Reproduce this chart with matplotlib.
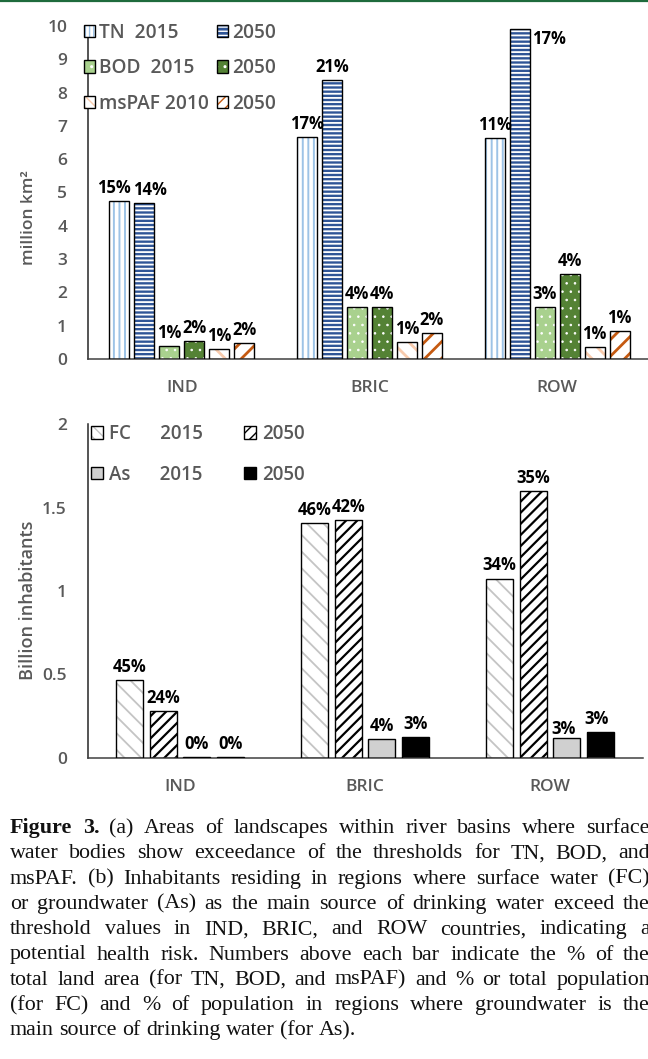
import matplotlib
matplotlib.use("Agg")
import matplotlib.pyplot as plt
from matplotlib.lines import Line2D
from matplotlib.patches import Patch
from matplotlib.legend_handler import HandlerTuple

# ---------------- data ----------------
regions = ["IND", "BRIC", "ROW"]

# (a) million km2
tn_2015 = [4.74, 6.67, 6.64]
tn_2050 = [4.68, 8.38, 9.90]
bod_2015 = [0.40, 1.56, 1.57]
bod_2050 = [0.54, 1.57, 2.54]
mspaf_2010 = [0.30, 0.51, 0.35]
mspaf_2050 = [0.48, 0.77, 0.84]

tn_2015_pct = ["15%", "17%", "11%"]
tn_2050_pct = ["14%", "21%", "17%"]
bod_2015_pct = ["1%", "4%", "3%"]
bod_2050_pct = ["2%", "4%", "4%"]
mspaf_2010_pct = ["1%", "1%", "1%"]
mspaf_2050_pct = ["2%", "2%", "1%"]

# (b) billion inhabitants
fc_2015 = [0.467, 1.407, 1.074]
fc_2050 = [0.283, 1.425, 1.600]
as_2015 = [0.004, 0.114, 0.120]
as_2050 = [0.004, 0.126, 0.157]

fc_2015_pct = ["45%", "46%", "34%"]
fc_2050_pct = ["24%", "42%", "35%"]
as_2015_pct = ["0%", "4%", "3%"]
as_2050_pct = ["0%", "3%", "3%"]

top_yticks = [0, 1, 2, 3, 4, 5, 6, 7, 8, 9, 10]
bot_yticks = [0, 0.5, 1, 1.5, 2]
bot_yticklabels = ["0", "0.5", "1", "1.5", "2"]

caption_lines = [
    "Figure 3. (a) Areas of landscapes within river basins where surface",
    "water bodies show exceedance of the thresholds for TN, BOD, and",
    "msPAF. (b) Inhabitants residing in regions where surface water (FC)",
    "or groundwater (As) as the main source of drinking water exceed the",
    "threshold values in IND, BRIC, and ROW countries, indicating a",
    "potential health risk. Numbers above each bar indicate the % of the",
    "total land area (for TN, BOD, and msPAF) and % or total population",
    "(for FC) and % of population in regions where groundwater is the",
    "main source of drinking water (for As).",
]

# ---------------- style ----------------
W, H = 648, 1059
SANS = ["Open Sans", "DejaVu Sans"]
SERIF = ["Liberation Serif", "DejaVu Serif"]
GRAY = "#595959"
plt.rcParams["font.family"] = SANS
plt.rcParams["hatch.linewidth"] = 1.0

fig = plt.figure(figsize=(W / 100, H / 100), dpi=100)
fig.patch.set_facecolor("white")

ax1 = fig.add_axes([88 / W, 1 - 359 / H, 563 / W, 333 / H])
ax2 = fig.add_axes([87.5 / W, 1 - 758 / H, 555 / W, 334 / H])

x = list(range(len(regions)))


def set_hlw(p, hlw):
    if hasattr(p, "set_hatch_linewidth"):
        p.set_hatch_linewidth(hlw)


def hatched(ax, xs, hs, width, face, hatch, hcolor, hlw):
    fill = ax.bar(xs, hs, width, color=face, edgecolor=hcolor, linewidth=0,
                  hatch=hatch, zorder=2)
    for p in fill:
        set_hlw(p, hlw)
    outline = ax.bar(xs, hs, width, fill=False, edgecolor="black",
                     linewidth=1.0, zorder=3)
    return fill, outline


def legend_handle(face, hatch, hcolor, hlw):
    f = Patch(facecolor=face, edgecolor=hcolor, linewidth=0, hatch=hatch)
    set_hlw(f, hlw)
    o = Patch(fill=False, edgecolor="black", linewidth=1.0)
    return (f, o)


def style_axes(ax):
    for s in ["top", "right"]:
        ax.spines[s].set_visible(False)
    ax.spines["left"].set_color("#262626")
    ax.spines["left"].set_linewidth(1.1)
    ax.spines["bottom"].set_color("#404040")
    ax.spines["bottom"].set_linewidth(1.1)
    ax.tick_params(axis="both", length=0, colors=GRAY, labelsize=12.5)
    ax.tick_params(axis="y", pad=15)
    ax.tick_params(axis="x", pad=15)
    for lab in ax.get_xticklabels() + ax.get_yticklabels():
        lab.set_fontweight("semibold")
    ax.set_xlim(-0.5, 2.5)


# label nudges (points) for labels Excel moved to avoid overlaps
nudge_a = {(0, 0): (-4, 3), (1, 0): (4, 3)}
nudge_b = {(2, 2): (-2, 0), (3, 2): (-3, 3)}
PCT_FS = 12

# ---------------- panel (a) ----------------
step_a = 25 / 187.67
wid_a = 20 / 187.67
# values, labels, face, hatch, hatch colour, hatch lw, legend hatch
series_a = [
    (tn_2015, tn_2015_pct, "white", "|||", "#9DC3E6", 1.4, "||||"),
    (tn_2050, tn_2050_pct, "#2F5597", "----", "white", 1.3, "----"),
    (bod_2015, bod_2015_pct, "#A9D18E", "..", "white", 0.6, ".."),
    (bod_2050, bod_2050_pct, "#548235", "..", "white", 0.6, ".."),
    (mspaf_2010, mspaf_2010_pct, "white", "\\\\", "#F8CBAD", 2.0, "\\\\\\"),
    (mspaf_2050, mspaf_2050_pct, "white", "//", "#C55A11", 2.0, "///"),
]
handles_a = []
for i, (vals, pct, face, hatch, hc, hlw, lh) in enumerate(series_a):
    xs = [xi + (i - 2.5) * step_a for xi in x]
    fill, outline = hatched(ax1, xs, vals, wid_a, face, hatch, hc, hlw)
    anns = ax1.bar_label(outline, labels=pct, padding=3, fontsize=PCT_FS,
                         fontweight="bold", color="black")
    for j, a in enumerate(anns):
        if (i, j) in nudge_a:
            a.xyann = nudge_a[(i, j)]
    if i == 1:  # ROW 2050 TN label sits right of the bar top
        anns[2].set_ha("left")
        anns[2].set_va("center")
        anns[2].xyann = (9, -7)
    handles_a.append(legend_handle(face, lh, hc, hlw))

ax1.set_ylim(0, 10)
ax1.set_yticks(top_yticks)
ax1.set_xticks(x)
ax1.set_xticklabels(regions)
style_axes(ax1)
ax1.set_ylabel("million km²", color=GRAY, fontsize=12.5, fontweight="semibold")
ax1.yaxis.set_label_coords(-(88 - 37) / 563, 1 - (218 - 26) / 333)

labels_a = ["TN  2015", "BOD  2015", "msPAF 2010", "2050", "2050", "2050"]
order = [0, 2, 4, 1, 3, 5]
leg1 = ax1.legend([handles_a[k] for k in order], labels_a,
                  handler_map={tuple: HandlerTuple(ndivide=1)},
                  ncol=2, loc="upper left", bbox_to_anchor=(84 / W, 1 - 23 / H),
                  bbox_transform=fig.transFigure, frameon=False, borderpad=0,
                  borderaxespad=0, handlelength=0.55, handleheight=0.6,
                  handletextpad=0.22, labelspacing=0.8, columnspacing=0.45,
                  labelcolor=GRAY, prop={"weight": "semibold", "size": 13.8})

# ---------------- panel (b) ----------------
step_b = 33.5 / 185
wid_b = 27 / 185
series_b = [
    (fc_2015, fc_2015_pct, "white", "\\\\", "#C4C4C4", 1.3, "\\\\\\"),
    (fc_2050, fc_2050_pct, "white", "///", "black", 1.6, "///"),
    (as_2015, as_2015_pct, "#D0D0D0", None, "#D0D0D0", 1.0, None),
    (as_2050, as_2050_pct, "black", None, "black", 1.0, None),
]
handles_b = []
for i, (vals, pct, face, hatch, hc, hlw, lh) in enumerate(series_b):
    xs = [xi + (i - 1.5) * step_b for xi in x]
    fill, outline = hatched(ax2, xs, vals, wid_b, face, hatch, hc, hlw)
    anns = ax2.bar_label(outline, labels=pct, padding=3, fontsize=PCT_FS,
                         fontweight="bold", color="black")
    for j, a in enumerate(anns):
        if (i, j) in nudge_b:
            a.xyann = nudge_b[(i, j)]
    handles_b.append(legend_handle(face, lh, hc, hlw))

ax2.set_ylim(0, 2)
ax2.set_yticks(bot_yticks)
ax2.set_yticklabels(bot_yticklabels)
ax2.set_xticks(x)
ax2.set_xticklabels(regions)
style_axes(ax2)
ax2.set_ylabel("Billion inhabitants", color=GRAY, fontsize=13, fontweight="semibold")
ax2.yaxis.set_label_coords(-(87.5 - 37) / 555, 1 - (600 - 424) / 334)

labels_b = ["FC      2015", "As      2015", "2050", "2050"]
hb = [handles_b[0], handles_b[2], handles_b[1], handles_b[3]]
leg2 = ax2.legend(hb, labels_b, handler_map={tuple: HandlerTuple(ndivide=1)},
                  ncol=2, loc="upper left", bbox_to_anchor=(91 / W, 1 - 424 / H),
                  bbox_transform=fig.transFigure, frameon=False, borderpad=0,
                  borderaxespad=0, handlelength=0.65, handleheight=0.65,
                  handletextpad=0.3, labelspacing=1.1, columnspacing=2.2,
                  labelcolor=GRAY, prop={"weight": "semibold", "size": 13.5})

# top green rule
fig.add_artist(Line2D([0, 1], [1 - 1 / H, 1 - 1 / H], transform=fig.transFigure,
                      color="#1E6B3C", lw=1.6))

# ---------------- caption (justified) ----------------
renderer = fig.canvas.get_renderer()
cap_fs = 15.8
left_px, right_px = 10, 650
base0, lead = 833, 25.3
space_px = 0.25 * cap_fs * 100 / 72
for i, line in enumerate(caption_lines):
    words = line.split(" ")
    texts = []
    for j, w in enumerate(words):
        weight = "bold" if (i == 0 and j < 2) else "normal"
        t = fig.text(0, 0, w, fontsize=cap_fs, family=SERIF, fontweight=weight,
                     va="baseline", ha="left", color="#111111")
        texts.append(t)
    widths = [t.get_window_extent(renderer).width for t in texts]
    if i < len(caption_lines) - 1 and len(words) > 1:
        gap = (right_px - left_px - sum(widths)) / (len(words) - 1)
    else:
        gap = space_px
    xp = left_px
    yb = base0 + i * lead
    for t, wdt in zip(texts, widths):
        t.set_position((xp / W, 1 - yb / H))
        xp += wdt + gap

fig.savefig("out.png", dpi=100, facecolor="white")
